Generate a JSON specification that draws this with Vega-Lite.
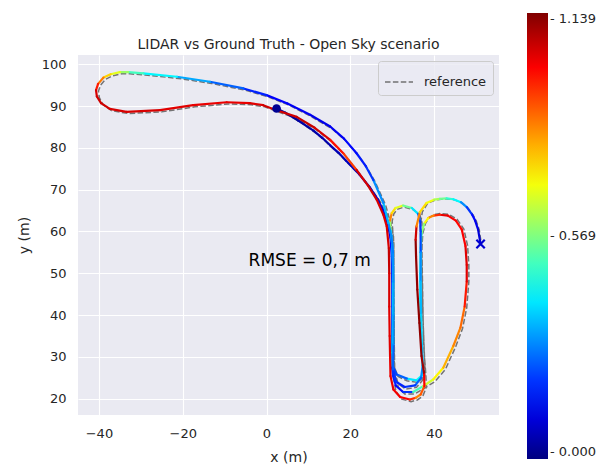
{
  "$schema": "https://vega.github.io/schema/vega-lite/v6.json",
  "width": 421,
  "height": 360,
  "autosize": "none",
  "padding": {"left": 78, "top": 55, "right": 112, "bottom": 50},
  "background": "#ffffff",
  "title": {
    "text": "LIDAR vs Ground Truth - Open Sky scenario",
    "fontSize": 14,
    "fontWeight": "normal",
    "font": "DejaVu Sans",
    "color": "#262626",
    "offset": -39,
    "anchor": "middle",
    "frame": "group"
  },
  "datasets": {
    "traj": [
      {"t":1,"x":2.4,"y":89.4,"gx":2.9,"gy":89.0,"e":0.02},
      {"t":2,"x":4.5,"y":88.4,"gx":5.0,"gy":88.0,"e":0.03},
      {"t":3,"x":7.5,"y":86.6,"gx":8.0,"gy":86.2,"e":0.04},
      {"t":4,"x":11.2,"y":84.1,"gx":11.7,"gy":83.6,"e":0.05},
      {"t":4.5,"x":13.3,"y":82.4,"gx":13.7,"gy":81.9,"e":0.05},
      {"t":5,"x":15.2,"y":80.6,"gx":15.6,"gy":80.1,"e":0.06},
      {"t":5.5,"x":17.2,"y":78.8,"gx":17.6,"gy":78.3,"e":0.06},
      {"t":6,"x":19.0,"y":76.9,"gx":19.4,"gy":76.4,"e":0.07},
      {"t":7,"x":22.2,"y":73.6,"gx":22.6,"gy":73.1,"e":0.08},
      {"t":8,"x":24.7,"y":70.5,"gx":25.1,"gy":70.0,"e":0.09},
      {"t":9,"x":26.6,"y":67.6,"gx":27.1,"gy":67.2,"e":0.10},
      {"t":10,"x":27.9,"y":64.9,"gx":28.5,"gy":64.6,"e":0.12},
      {"t":11,"x":28.9,"y":62.0,"gx":29.6,"gy":61.8,"e":0.13},
      {"t":12,"x":29.6,"y":58.5,"gx":30.2,"gy":58.4,"e":0.15},
      {"t":13,"x":29.9,"y":54.0,"gx":30.4,"gy":54.0,"e":0.17},
      {"t":14,"x":30.0,"y":48.0,"gx":30.4,"gy":48.0,"e":0.18},
      {"t":15,"x":30.0,"y":42.0,"gx":30.4,"gy":42.0,"e":0.20},
      {"t":16,"x":30.0,"y":36.0,"gx":30.5,"gy":36.0,"e":0.22},
      {"t":17,"x":29.9,"y":31.0,"gx":30.5,"gy":31.0,"e":0.22},
      {"t":18,"x":29.9,"y":28.0,"gx":30.5,"gy":28.0,"e":0.20},
      {"t":19,"x":30.2,"y":25.5,"gx":30.8,"gy":25.2,"e":0.18},
      {"t":20,"x":30.9,"y":23.1,"gx":31.5,"gy":22.7,"e":0.15},
      {"t":21,"x":32.6,"y":21.6,"gx":33.0,"gy":21.1,"e":0.20},
      {"t":22,"x":35.0,"y":21.6,"gx":35.3,"gy":21.1,"e":0.50},
      {"t":23,"x":37.4,"y":23.0,"gx":37.7,"gy":22.5,"e":0.66},
      {"t":24,"x":39.8,"y":24.6,"gx":40.2,"gy":24.1,"e":0.72},
      {"t":25,"x":42.2,"y":27.4,"gx":42.7,"gy":27.0,"e":0.80},
      {"t":26,"x":44.6,"y":32.6,"gx":45.1,"gy":32.3,"e":0.85},
      {"t":27,"x":46.3,"y":37.0,"gx":46.8,"gy":36.8,"e":0.88},
      {"t":28,"x":47.3,"y":42.0,"gx":47.8,"gy":41.8,"e":0.97},
      {"t":29,"x":47.8,"y":48.0,"gx":48.3,"gy":48.0,"e":1.03},
      {"t":30,"x":47.8,"y":52.0,"gx":48.3,"gy":52.0,"e":1.03},
      {"t":31,"x":47.5,"y":56.5,"gx":48.0,"gy":56.6,"e":1.00},
      {"t":32,"x":46.6,"y":60.5,"gx":47.1,"gy":60.6,"e":0.99},
      {"t":33,"x":45.2,"y":62.6,"gx":45.5,"gy":62.9,"e":1.00},
      {"t":34,"x":43.3,"y":63.8,"gx":43.5,"gy":64.1,"e":1.02},
      {"t":35,"x":41.4,"y":64.0,"gx":41.5,"gy":64.3,"e":0.95},
      {"t":36,"x":39.9,"y":63.8,"gx":40.0,"gy":64.0,"e":0.85},
      {"t":37,"x":38.6,"y":63.2,"gx":38.8,"gy":63.3,"e":0.72},
      {"t":38,"x":37.6,"y":61.8,"gx":37.9,"gy":61.8,"e":0.58},
      {"t":39,"x":37.0,"y":59.5,"gx":37.3,"gy":59.5,"e":0.50},
      {"t":40,"x":36.8,"y":56.0,"gx":37.1,"gy":56.0,"e":0.45},
      {"t":41,"x":36.7,"y":50.0,"gx":37.2,"gy":50.0,"e":0.42},
      {"t":42,"x":36.7,"y":44.0,"gx":37.3,"gy":44.0,"e":0.43},
      {"t":43,"x":36.8,"y":38.0,"gx":37.4,"gy":38.0,"e":0.42},
      {"t":44,"x":37.0,"y":32.0,"gx":37.6,"gy":32.0,"e":0.40},
      {"t":45,"x":37.3,"y":28.0,"gx":37.8,"gy":28.0,"e":0.42},
      {"t":46,"x":37.4,"y":25.8,"gx":37.8,"gy":25.4,"e":0.43},
      {"t":47,"x":35.8,"y":24.4,"gx":36.0,"gy":23.9,"e":0.40},
      {"t":48,"x":33.5,"y":24.8,"gx":33.5,"gy":24.3,"e":0.25},
      {"t":49,"x":31.1,"y":25.8,"gx":31.4,"gy":25.3,"e":0.22},
      {"t":50,"x":30.1,"y":27.8,"gx":30.5,"gy":27.6,"e":0.40},
      {"t":51,"x":30.1,"y":31.0,"gx":30.5,"gy":31.0,"e":0.43},
      {"t":52,"x":30.2,"y":38.0,"gx":30.5,"gy":38.0,"e":0.42},
      {"t":53,"x":30.2,"y":45.0,"gx":30.4,"gy":45.0,"e":0.40},
      {"t":54,"x":30.2,"y":52.0,"gx":30.4,"gy":52.0,"e":0.40},
      {"t":55,"x":30.0,"y":57.0,"gx":30.4,"gy":57.0,"e":0.45},
      {"t":56,"x":29.6,"y":60.5,"gx":30.1,"gy":60.6,"e":0.60},
      {"t":57,"x":29.5,"y":62.6,"gx":30.0,"gy":62.5,"e":0.85},
      {"t":58,"x":29.9,"y":64.4,"gx":30.4,"gy":64.2,"e":0.75},
      {"t":59,"x":30.8,"y":65.6,"gx":31.2,"gy":65.3,"e":0.68},
      {"t":60,"x":32.6,"y":66.2,"gx":32.8,"gy":65.8,"e":0.55},
      {"t":61,"x":34.7,"y":65.6,"gx":34.9,"gy":65.3,"e":0.40},
      {"t":62,"x":36.2,"y":64.2,"gx":36.6,"gy":64.0,"e":0.25},
      {"t":63,"x":36.7,"y":62.4,"gx":37.1,"gy":62.2,"e":0.20},
      {"t":64,"x":36.8,"y":60.0,"gx":37.2,"gy":60.0,"e":0.22},
      {"t":65,"x":36.8,"y":55.0,"gx":37.1,"gy":55.0,"e":0.30},
      {"t":66,"x":36.8,"y":48.0,"gx":37.2,"gy":48.0,"e":0.35},
      {"t":67,"x":36.9,"y":40.0,"gx":37.3,"gy":40.0,"e":0.38},
      {"t":68,"x":37.1,"y":33.0,"gx":37.5,"gy":33.0,"e":0.36},
      {"t":69,"x":37.3,"y":28.0,"gx":37.8,"gy":28.0,"e":0.30},
      {"t":70,"x":36.9,"y":25.0,"gx":37.4,"gy":24.6,"e":0.25},
      {"t":71,"x":35.5,"y":23.2,"gx":35.8,"gy":22.7,"e":0.20},
      {"t":72,"x":33.0,"y":22.8,"gx":33.2,"gy":22.3,"e":0.18},
      {"t":73,"x":31.0,"y":24.0,"gx":31.4,"gy":23.6,"e":0.20},
      {"t":74,"x":30.2,"y":27.0,"gx":30.6,"gy":26.8,"e":0.25},
      {"t":75,"x":30.3,"y":33.0,"gx":30.5,"gy":33.0,"e":0.30},
      {"t":76,"x":30.3,"y":40.0,"gx":30.5,"gy":40.0,"e":0.32},
      {"t":77,"x":30.3,"y":48.0,"gx":30.4,"gy":48.0,"e":0.30},
      {"t":78,"x":30.2,"y":55.0,"gx":30.4,"gy":55.0,"e":0.28},
      {"t":79,"x":29.8,"y":59.0,"gx":30.3,"gy":59.0,"e":0.30},
      {"t":80,"x":29.1,"y":62.0,"gx":29.7,"gy":61.8,"e":0.35},
      {"t":81,"x":27.9,"y":66.8,"gx":28.4,"gy":66.4,"e":0.30},
      {"t":82,"x":25.5,"y":72.3,"gx":25.9,"gy":71.9,"e":0.20},
      {"t":82.5,"x":23.7,"y":75.6,"gx":24.1,"gy":75.1,"e":0.17},
      {"t":83,"x":21.5,"y":78.7,"gx":21.9,"gy":78.2,"e":0.15},
      {"t":83.5,"x":18.5,"y":82.2,"gx":18.9,"gy":81.7,"e":0.13},
      {"t":84,"x":15.2,"y":85.1,"gx":15.6,"gy":84.6,"e":0.12},
      {"t":85,"x":10.4,"y":87.9,"gx":10.8,"gy":87.4,"e":0.13},
      {"t":86,"x":5.0,"y":90.6,"gx":5.4,"gy":90.2,"e":0.14},
      {"t":87,"x":0.0,"y":92.6,"gx":0.4,"gy":92.2,"e":0.18},
      {"t":88,"x":-5.5,"y":94.2,"gx":-5.1,"gy":93.8,"e":0.25},
      {"t":89,"x":-13.5,"y":95.8,"gx":-13.1,"gy":95.4,"e":0.33},
      {"t":90,"x":-21.4,"y":97.0,"gx":-21.0,"gy":96.6,"e":0.42},
      {"t":91,"x":-29.4,"y":97.8,"gx":-29.0,"gy":97.4,"e":0.50},
      {"t":92,"x":-33.0,"y":98.1,"gx":-32.6,"gy":97.7,"e":0.60},
      {"t":93,"x":-35.0,"y":98.1,"gx":-34.6,"gy":97.7,"e":0.68},
      {"t":94,"x":-37.2,"y":97.6,"gx":-36.8,"gy":97.2,"e":0.76},
      {"t":95,"x":-38.9,"y":96.8,"gx":-38.4,"gy":96.4,"e":0.86},
      {"t":96,"x":-40.2,"y":95.3,"gx":-39.6,"gy":95.0,"e":0.97},
      {"t":97,"x":-40.7,"y":93.8,"gx":-40.1,"gy":93.6,"e":1.04},
      {"t":98,"x":-40.5,"y":92.3,"gx":-39.9,"gy":92.0,"e":1.05},
      {"t":99,"x":-39.5,"y":90.7,"gx":-39.0,"gy":90.3,"e":1.05},
      {"t":100,"x":-37.4,"y":89.3,"gx":-37.0,"gy":88.9,"e":1.04},
      {"t":101,"x":-33.4,"y":88.6,"gx":-33.0,"gy":88.2,"e":1.04},
      {"t":102,"x":-25.4,"y":89.0,"gx":-25.0,"gy":88.6,"e":1.03},
      {"t":103,"x":-17.5,"y":90.2,"gx":-17.1,"gy":89.8,"e":1.02},
      {"t":104,"x":-9.5,"y":90.9,"gx":-9.1,"gy":90.5,"e":1.02},
      {"t":105,"x":-4.0,"y":90.7,"gx":-3.6,"gy":90.3,"e":1.03},
      {"t":106,"x":-0.8,"y":90.2,"gx":-0.4,"gy":89.8,"e":1.05},
      {"t":107,"x":2.4,"y":89.0,"gx":2.8,"gy":88.6,"e":1.05},
      {"t":108,"x":7.2,"y":87.4,"gx":7.6,"gy":86.9,"e":1.06},
      {"t":109,"x":11.5,"y":84.8,"gx":11.9,"gy":84.3,"e":1.04},
      {"t":110,"x":15.2,"y":81.9,"gx":15.6,"gy":81.4,"e":0.98},
      {"t":111,"x":18.5,"y":78.5,"gx":18.9,"gy":78.0,"e":0.93},
      {"t":112,"x":21.5,"y":74.7,"gx":21.9,"gy":74.2,"e":1.04},
      {"t":113,"x":24.2,"y":71.0,"gx":24.6,"gy":70.6,"e":1.05},
      {"t":114,"x":26.3,"y":67.6,"gx":26.8,"gy":67.2,"e":1.04},
      {"t":115,"x":27.9,"y":64.0,"gx":28.5,"gy":63.7,"e":1.03},
      {"t":116,"x":28.7,"y":61.2,"gx":29.4,"gy":61.0,"e":1.04},
      {"t":117,"x":29.2,"y":56.0,"gx":29.9,"gy":56.0,"e":1.06},
      {"t":118,"x":29.3,"y":50.0,"gx":30.2,"gy":50.0,"e":1.04},
      {"t":119,"x":29.3,"y":42.0,"gx":30.3,"gy":42.0,"e":1.03},
      {"t":120,"x":29.4,"y":35.0,"gx":30.4,"gy":35.0,"e":1.03},
      {"t":121,"x":29.5,"y":30.0,"gx":30.5,"gy":30.0,"e":1.02},
      {"t":122,"x":29.6,"y":25.4,"gx":30.3,"gy":25.0,"e":1.02},
      {"t":123,"x":30.3,"y":22.2,"gx":30.9,"gy":21.7,"e":1.01},
      {"t":124,"x":31.9,"y":20.4,"gx":32.3,"gy":19.9,"e":1.00},
      {"t":125,"x":34.2,"y":19.8,"gx":34.5,"gy":19.3,"e":0.95},
      {"t":126,"x":35.6,"y":20.2,"gx":36.0,"gy":19.7,"e":0.85},
      {"t":127,"x":36.8,"y":21.0,"gx":37.3,"gy":20.6,"e":0.90},
      {"t":128,"x":37.7,"y":23.0,"gx":38.2,"gy":22.8,"e":1.00},
      {"t":129,"x":37.6,"y":26.2,"gx":38.0,"gy":26.2,"e":1.10},
      {"t":130,"x":37.0,"y":30.2,"gx":37.7,"gy":30.2,"e":1.12},
      {"t":131,"x":36.5,"y":38.1,"gx":37.4,"gy":38.1,"e":1.12},
      {"t":132,"x":36.0,"y":46.1,"gx":37.2,"gy":46.1,"e":1.12},
      {"t":133,"x":35.7,"y":54.0,"gx":37.0,"gy":54.0,"e":1.12},
      {"t":134,"x":35.6,"y":58.0,"gx":36.8,"gy":58.0,"e":1.05},
      {"t":135,"x":35.8,"y":61.2,"gx":36.7,"gy":61.4,"e":0.85},
      {"t":136,"x":36.6,"y":64.6,"gx":37.2,"gy":64.7,"e":0.75},
      {"t":137,"x":38.2,"y":66.8,"gx":38.5,"gy":66.8,"e":0.70},
      {"t":138,"x":40.0,"y":67.6,"gx":40.3,"gy":67.5,"e":0.62},
      {"t":139,"x":41.4,"y":67.8,"gx":41.7,"gy":67.7,"e":0.55},
      {"t":140,"x":43.0,"y":67.9,"gx":43.3,"gy":67.8,"e":0.48},
      {"t":141,"x":44.6,"y":67.7,"gx":44.9,"gy":67.6,"e":0.42},
      {"t":142,"x":46.4,"y":67.0,"gx":46.7,"gy":66.8,"e":0.30},
      {"t":143,"x":47.8,"y":65.8,"gx":48.1,"gy":65.6,"e":0.20},
      {"t":144,"x":49.1,"y":64.0,"gx":49.4,"gy":63.8,"e":0.15},
      {"t":145,"x":49.8,"y":62.6,"gx":50.1,"gy":62.4,"e":0.12},
      {"t":146,"x":50.5,"y":60.5,"gx":50.8,"gy":60.3,"e":0.10},
      {"t":147,"x":51.1,"y":57.0,"gx":51.3,"gy":56.9,"e":0.09}
    ],
    "ends": [
      {"kind": "start", "x": 2.4, "y": 89.4, "e": 0.02},
      {"kind": "end", "x": 51.1, "y": 57.0, "e": 0.09}
    ],
    "note": [
      {"x": 10.3, "y": 53.0, "label": "RMSE = 0,7 m"}
    ]
  },
  "resolve": {"scale": {"color": "independent"}, "legend": {"color": "independent"}},
  "layer": [
    {
      "data": {"name": "traj"},
      "mark": {"type": "line", "color": "#666666", "strokeWidth": 1.5, "opacity": 0.9},
      "encoding": {
        "x": {"field": "gx", "type": "quantitative", "title": "x (m)",
              "scale": {"domain": [-45, 55.5], "nice": false, "zero": false},
              "axis": {"values": [-40, -20, 0, 20, 40]}},
        "y": {"field": "gy", "type": "quantitative", "title": "y (m)",
              "scale": {"domain": [16.1, 102.2], "nice": false, "zero": false},
              "axis": {"values": [20, 30, 40, 50, 60, 70, 80, 90, 100]}},
        "order": {"field": "t", "type": "quantitative"},
        "strokeDash": {
          "datum": "reference",
          "type": "nominal",
          "scale": {"range": [[5.5, 2.4]]},
          "legend": {
            "title": null,
            "orient": "top-right",
            "offset": 6,
            "symbolType": "stroke",
            "symbolSize": 784,
            "symbolStrokeWidth": 1.5,
            "symbolStrokeColor": "#666666",
            "labelFont": "DejaVu Sans",
            "labelFontSize": 13,
            "labelColor": "#262626",
            "labelOffset": 10,
            "fillColor": "rgba(234,234,242,0.8)",
            "strokeColor": "#cccccc",
            "cornerRadius": 3,
            "padding": 6
          }
        }
      }
    },
    {
      "data": {"name": "traj"},
      "transform": [
        {"window": [{"op": "lead", "field": "x", "as": "x2"}, {"op": "lead", "field": "y", "as": "y2"}],
         "sort": [{"field": "t", "order": "ascending"}]},
        {"filter": "datum.x2 != null"}
      ],
      "mark": {"type": "rule", "strokeWidth": 2.2, "strokeCap": "round"},
      "encoding": {
        "x": {"field": "x", "type": "quantitative", "title": "x (m)"},
        "y": {"field": "y", "type": "quantitative", "title": "y (m)"},
        "x2": {"field": "x2"},
        "y2": {"field": "y2"},
        "color": {
          "field": "e",
          "type": "quantitative",
          "scale": {
            "domain": [0, 0.1424, 0.2848, 0.4271, 0.5695, 0.7119, 0.8543, 0.9966, 1.139],
            "range": ["#000080", "#0000ff", "#0080ff", "#00ffff", "#80ff80", "#ffff00", "#ff8000", "#ff0000", "#800000"],
            "interpolate": "rgb"
          },
          "legend": {
            "type": "gradient",
            "title": null,
            "orient": "none",
            "legendX": 449,
            "legendY": -42,
            "direction": "vertical",
            "gradientLength": 446,
            "gradientThickness": 21,
            "gradientStrokeWidth": 0,
            "values": [0, 0.569, 1.139],
            "labelExpr": "'- ' + format(datum.value, '.3f')",
            "labelFont": "DejaVu Sans",
            "labelFontSize": 13,
            "labelColor": "#262626",
            "labelOffset": 2,
            "labelOverlap": false,
            "labelBaseline": "middle"
          }
        }
      }
    },
    {
      "data": {"name": "ends"},
      "transform": [{"filter": "datum.kind == 'start'"}],
      "mark": {"type": "point", "filled": true, "shape": "circle", "size": 75, "opacity": 1},
      "encoding": {
        "x": {"field": "x", "type": "quantitative", "title": "x (m)"},
        "y": {"field": "y", "type": "quantitative", "title": "y (m)"},
        "color": {
          "field": "e",
          "type": "quantitative",
          "scale": {
            "domain": [0, 0.1424, 0.2848, 0.4271, 0.5695, 0.7119, 0.8543, 0.9966, 1.139],
            "range": ["#000080", "#0000ff", "#0080ff", "#00ffff", "#80ff80", "#ffff00", "#ff8000", "#ff0000", "#800000"],
            "interpolate": "rgb"
          },
          "legend": null
        }
      }
    },
    {
      "data": {"name": "ends"},
      "transform": [{"filter": "datum.kind == 'end'"}],
      "mark": {"type": "point", "filled": false, "shape": "M-1,-1L1,1M-1,1L1,-1", "size": 70, "strokeWidth": 2.2, "opacity": 1},
      "encoding": {
        "x": {"field": "x", "type": "quantitative", "title": "x (m)"},
        "y": {"field": "y", "type": "quantitative", "title": "y (m)"},
        "color": {
          "field": "e",
          "type": "quantitative",
          "scale": {
            "domain": [0, 0.1424, 0.2848, 0.4271, 0.5695, 0.7119, 0.8543, 0.9966, 1.139],
            "range": ["#000080", "#0000ff", "#0080ff", "#00ffff", "#80ff80", "#ffff00", "#ff8000", "#ff0000", "#800000"],
            "interpolate": "rgb"
          },
          "legend": null
        }
      }
    },
    {
      "data": {"name": "note"},
      "mark": {"type": "text", "font": "DejaVu Sans", "fontSize": 17, "color": "#000000", "align": "center", "baseline": "middle"},
      "encoding": {
        "x": {"field": "x", "type": "quantitative", "title": "x (m)"},
        "y": {"field": "y", "type": "quantitative", "title": "y (m)"},
        "text": {"field": "label"}
      }
    }
  ],
  "config": {
    "view": {"fill": "#EAEAF2", "stroke": null},
    "axis": {
      "domain": false,
      "ticks": false,
      "grid": true,
      "gridColor": "#ffffff",
      "gridWidth": 1.1,
      "labelFont": "DejaVu Sans",
      "labelFontSize": 13,
      "labelColor": "#262626",
      "labelPadding": 12,
      "titleFont": "DejaVu Sans",
      "titleFontSize": 14,
      "titleFontWeight": "normal",
      "titleColor": "#262626"
    },
    "axisX": {"titlePadding": 10},
    "axisY": {"titlePadding": 10}
  }
}
